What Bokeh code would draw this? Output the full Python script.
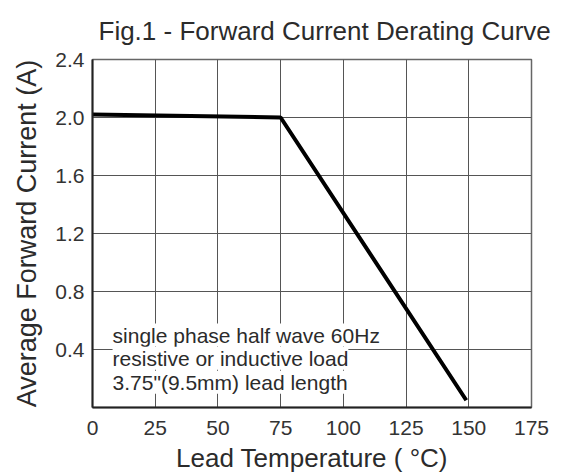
from bokeh.plotting import figure
from bokeh.models import Range1d, FixedTicker, Label, NumeralTickFormatter, Title
from bokeh.embed import file_html
from bokeh.resources import INLINE

# Data
temps = [0, 75, 149]
current = [2.02, 2.0, 0.05]
x_ticks = [0, 25, 50, 75, 100, 125, 150, 175]
y_ticks = [0.4, 0.8, 1.2, 1.6, 2.0, 2.4]
y_grid = [0.4, 0.8, 1.2, 1.6, 2.0]
title_text = "Fig.1 -  Forward Current Derating Curve"
x_title = "Lead Temperature ( °C)"
y_title = "Average Forward Current (A)"
note_lines = ["single phase half wave 60Hz",
              "resistive or inductive load",
              "3.75\"(9.5mm) lead length"]
note_y = [0.50, 0.34, 0.175]

FONT = "Liberation Sans"
TXT = "#2b2b2b"

p = figure(width=574, height=475, output_backend="svg", toolbar_location=None,
           x_range=Range1d(0, 175), y_range=Range1d(0, 2.4),
           min_border_left=92, min_border_right=43, min_border_top=59, min_border_bottom=68)

p.add_layout(Title(text=title_text, text_font=FONT, text_font_size="26px",
                   text_font_style="normal", text_color=TXT, align="left",
                   vertical_align="top", offset=6, standoff=23), "above")

p.line(temps, current, line_color="black", line_width=4)

p.xaxis.ticker = FixedTicker(ticks=x_ticks)
p.yaxis.ticker = FixedTicker(ticks=y_ticks)
p.yaxis.formatter = NumeralTickFormatter(format="0.0")
p.xgrid.ticker = FixedTicker(ticks=x_ticks)
p.ygrid.ticker = FixedTicker(ticks=y_grid)
p.grid.grid_line_color = "#555555"
p.grid.grid_line_width = 1
p.grid.grid_line_alpha = 1

for ax in (p.xaxis, p.yaxis):
    ax.axis_line_color = "#222222"
    ax.axis_line_width = 2
    ax.major_tick_line_color = None
    ax.minor_tick_line_color = None
    ax.major_label_text_font = FONT
    ax.major_label_text_font_size = "21px"
    ax.major_label_text_color = "#333333"
    ax.axis_label_text_font = FONT
    ax.axis_label_text_font_style = "normal"
    ax.axis_label_text_color = TXT

p.xaxis.axis_label_text_font_size = "26px"
p.yaxis.axis_label_text_font_size = "27px"
p.xaxis.axis_label = x_title
p.yaxis.axis_label = y_title
p.xaxis.major_label_standoff = 7
p.yaxis.major_label_standoff = 2
p.xaxis.axis_label_standoff = 5
p.yaxis.axis_label_standoff = 10

p.outline_line_color = "#666666"
p.outline_line_width = 1.5

for t, yy in zip(note_lines, note_y):
    p.add_layout(Label(x=8, y=yy, text=t,
                       text_font=FONT, text_font_size="21px", text_color=TXT,
                       text_baseline="middle", padding=0,
                       background_fill_color="white", background_fill_alpha=1.0))

p.background_fill_color = "white"
p.border_fill_color = "white"

open("out.html", "w").write(file_html(p, INLINE))
